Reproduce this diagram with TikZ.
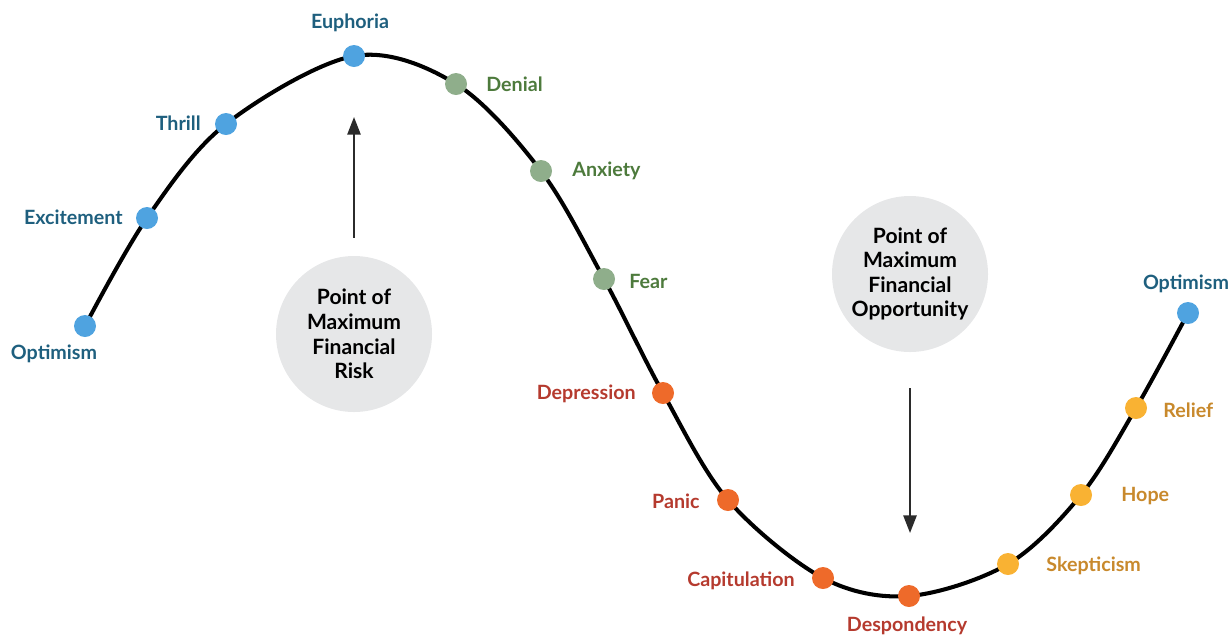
\documentclass[tikz,border=0pt]{standalone}
\usepackage{fontspec}
\setmainfont{Lato}
\usetikzlibrary{arrows.meta}
\usetikzlibrary{calc}

\definecolor{dotblue}{HTML}{4FA3E0}
\definecolor{txtblue}{HTML}{1E5F7E}
\definecolor{dotgreen}{HTML}{8FAE8B}
\definecolor{txtgreen}{HTML}{4D7A3C}
\definecolor{dotorange}{HTML}{EE6A2A}
\definecolor{txtred}{HTML}{B53A2E}
\definecolor{dotyellow}{HTML}{F9B233}
\definecolor{txtyellow}{HTML}{C8892C}
\definecolor{bubble}{HTML}{E6E7E8}
\definecolor{arrowgrey}{HTML}{2B2B2B}

\begin{document}
\begin{tikzpicture}[x=0.02cm, y=-0.02cm,
    phase/.style={circle, fill=#1, inner sep=0pt, minimum size=22*0.02cm},
    lbl/.style={font=\bfseries\fontsize{11.2}{13}\selectfont, text=#1, inner sep=0pt},
    bubbletext/.style={circle, fill=bubble, minimum size=156*0.02cm, align=center,
        font=\bfseries\fontsize{12}{14}\selectfont, inner sep=0pt},
    pointer/.style={arrowgrey, line width=1.1pt, -{Triangle[width=7.5pt,length=10pt]}}]
            \useasboundingbox (0,0) rectangle (1229,637);
            % points of the cycle
            \coordinate (optA) at (85,326);
            \coordinate (excite) at (147,218);
            \coordinate (thrill) at (226,124);
            \coordinate (euph) at (354,56);
            \coordinate (denial) at (456,84);
            \coordinate (anx) at (541,171);
            \coordinate (fear) at (604,279);
            \coordinate (depr) at (663,393);
            \coordinate (panic) at (728,500);
            \coordinate (capit) at (823,578);
            \coordinate (despond) at (909,596);
            \coordinate (skept) at (1008,564);
            \coordinate (hope) at (1081,495);
            \coordinate (relief) at (1136,408);
            \coordinate (optB) at (1188,313);
            % the curve
            \draw[black, line width=2.3pt] plot[smooth, tension=0.55] coordinates {(optA) (excite) (thrill) (euph) (denial) (anx) (fear) (depr) (panic) (capit) (despond) (skept) (hope) (relief) (optB)};
            % the dots
            \node[phase=dotblue] (dOptA) at (optA) {};
            \node[phase=dotblue] (dExcite) at (excite) {};
            \node[phase=dotblue] (dThrill) at (thrill) {};
            \node[phase=dotblue] (dEuph) at (euph) {};
            \node[phase=dotgreen] (dDenial) at (denial) {};
            \node[phase=dotgreen] (dAnx) at (anx) {};
            \node[phase=dotgreen] (dFear) at (fear) {};
            \node[phase=dotorange] (dDepr) at (depr) {};
            \node[phase=dotorange] (dPanic) at (panic) {};
            \node[phase=dotorange] (dCapit) at (capit) {};
            \node[phase=dotorange] (dDespond) at (despond) {};
            \node[phase=dotyellow] (dSkept) at (skept) {};
            \node[phase=dotyellow] (dHope) at (hope) {};
            \node[phase=dotyellow] (dRelief) at (relief) {};
            \node[phase=dotblue] (dOptB) at (optB) {};
            % the labels
            \node[lbl=txtblue] (tOptA) at (54,354) {Optimism};
            \node[lbl=txtblue, anchor=east] (tExcite) at (123,217) {Excitement};
            \node[lbl=txtblue, anchor=east] (tThrill) at (201,123) {Thrill};
            \node[lbl=txtblue] (tEuph) at (350,23) {Euphoria};
            \node[lbl=txtgreen, anchor=west] (tDenial) at (486,84) {Denial};
            \node[lbl=txtgreen, anchor=west] (tAnx) at (572,171) {Anxiety};
            \node[lbl=txtgreen, anchor=west] (tFear) at (629,281) {Fear};
            \node[lbl=txtred, anchor=east] (tDepr) at (636,394) {Depression};
            \node[lbl=txtred, anchor=east] (tPanic) at (700,501) {Panic};
            \node[lbl=txtred, anchor=east] (tCapit) at (795,581) {Capitulation};
            \node[lbl=txtred] (tDespond) at (907,626) {Despondency};
            \node[lbl=txtyellow, anchor=west] (tSkept) at (1046,566) {Skepticism};
            \node[lbl=txtyellow, anchor=west] (tHope) at (1121,496) {Hope};
            \node[lbl=txtyellow, anchor=west] (tRelief) at (1163,410) {Relief};
            \node[lbl=txtblue] (tOptB) at (1186,284) {Optimism};
            % the two bubbles
            \node[bubbletext] (risk) at (354,334) {Point of\\Maximum\\Financial\\Risk};
            \node[bubbletext] (opport) at (910,274) {Point of\\Maximum\\Financial\\Opportunity};
            \coordinate (riskTip) at (354,117);
            \coordinate (opportTip) at (910,533);
            \draw[pointer] ($(risk.north)+(0,-18)$) -- (riskTip);
            \draw[pointer] ($(opport.south)+(0,36)$) -- (opportTip);
        \end{tikzpicture}
\end{document}
